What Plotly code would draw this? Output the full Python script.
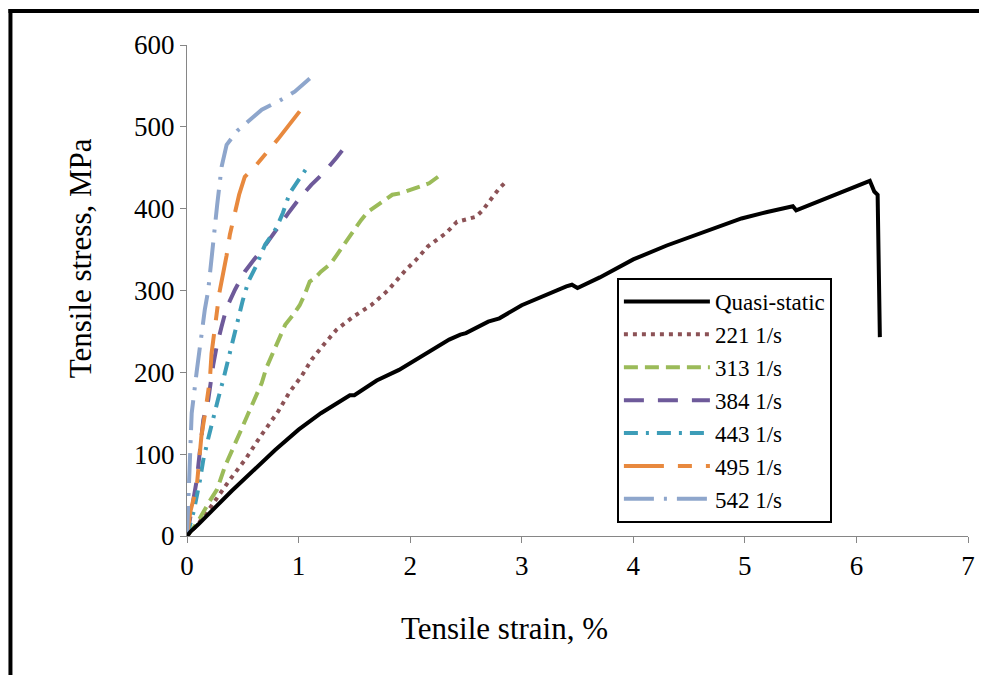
import plotly.graph_objects as go

# ---- data ----
qs_strain = [0, 0.03, 0.1, 0.2, 0.4, 0.79, 1.0, 1.2, 1.4, 1.46, 1.5, 1.7, 1.9, 2.1, 2.35, 2.45, 2.5,
             2.7, 2.8, 3.0, 3.2, 3.4, 3.45, 3.5, 3.7, 4.0, 4.3, 4.58, 4.97, 5.2, 5.43, 5.46, 5.78,
             6.0, 6.12, 6.16, 6.19, 6.21]
qs_stress = [0, 5, 14, 28, 55, 105, 130, 150, 168, 172, 172, 190, 203, 220, 240, 246, 248,
             262, 266, 282, 294, 305, 307, 303, 316, 338, 355, 369, 388, 396, 403, 398, 416,
             428, 434, 421, 417, 243]

s221_strain = [0, 0.1, 0.2, 0.38, 0.53, 0.65, 0.816, 0.92, 1.025, 1.12, 1.22, 1.34, 1.49, 1.65,
               1.80, 1.96, 2.05, 2.16, 2.32, 2.42, 2.59, 2.65, 2.71, 2.80, 2.86]
s221_stress = [0, 15, 33, 68, 95, 120, 152, 176, 195, 216, 233, 252, 268, 282,
               300, 325, 337, 354, 370, 384, 390, 398, 409, 425, 433]

s313_strain = [0, 0.1, 0.2, 0.27, 0.34, 0.43, 0.47, 0.55, 0.61, 0.67, 0.71, 0.77, 0.82, 0.88,
               0.95, 1.01, 1.055, 1.10, 1.144, 1.20, 1.29, 1.34, 1.40, 1.44, 1.50, 1.56, 1.62,
               1.68, 1.755, 1.84, 1.92, 2.01, 2.10, 2.17, 2.25]
s313_stress = [0, 18, 42, 57, 85, 111, 125, 150, 170, 187, 205, 223, 240, 258,
               270, 282, 295, 311, 315, 323, 333, 343, 354, 364, 376, 386, 396,
               402, 409, 417, 419, 423, 427, 431, 439]

s384_strain = [0, 0.03, 0.056, 0.087, 0.146, 0.19, 0.235, 0.265, 0.31, 0.355, 0.43, 0.518,
               0.608, 0.7, 0.905, 1.01, 1.114, 1.233, 1.338, 1.397]
s384_stress = [0, 25, 44, 68, 142, 166, 209, 231, 256, 279, 301, 323,
               339, 355, 394, 413, 429, 445, 462, 472]

s443_strain = [0, 0.06, 0.116, 0.146, 0.19, 0.25, 0.28, 0.325, 0.37, 0.41, 0.46, 0.50, 0.55,
               0.62, 0.70, 0.80, 0.86, 0.92, 1.01, 1.10]
s443_stress = [0, 30, 68, 93, 119, 154, 168, 191, 217, 240, 264, 288, 311,
               330, 356, 376, 395, 419, 437, 455]

s495_strain = [0, 0.03, 0.087, 0.13, 0.16, 0.205, 0.22, 0.265, 0.29, 0.355, 0.384, 0.467,
               0.518, 0.6, 0.727, 0.816, 1.01]
s495_stress = [0, 30, 60, 123, 148, 191, 223, 270, 297, 343, 368, 417,
               439, 450, 470, 485, 519]

s542_strain = [0, 0.027, 0.042, 0.087, 0.13, 0.16, 0.19, 0.226, 0.25, 0.27, 0.31, 0.355,
               0.45, 0.67, 0.83, 0.965, 1.10]
s542_stress = [0, 101, 150, 201, 252, 277, 300, 352, 378, 404, 451, 478,
               495, 521, 532, 543, 559]

series_names = ["Quasi-static", "221 1/s", "313 1/s", "384 1/s", "443 1/s", "495 1/s", "542 1/s"]
x_ticks = [0, 1, 2, 3, 4, 5, 6, 7]
y_ticks = [0, 100, 200, 300, 400, 500, 600]

# ---- styles ----
styles = [
    dict(color="#000000", width=4, dash="solid"),
    dict(color="#8C5256", width=4, dash="4px,5px"),
    dict(color="#9BBB59", width=4, dash="14px,7px"),
    dict(color="#6E5A9A", width=4, dash="20px,14px"),
    dict(color="#3D9DB8", width=4, dash="14px,8px,3px,8px"),
    dict(color="#E8893E", width=4, dash="40px,14px,14px,14px"),
    dict(color="#8EA6CC", width=4, dash="30px,10px,3px,10px"),
]

xs = [qs_strain, s221_strain, s313_strain, s384_strain, s443_strain, s495_strain, s542_strain]
ys = [qs_stress, s221_stress, s313_stress, s384_stress, s443_stress, s495_stress, s542_stress]

FONT = "Liberation Serif, Times New Roman, serif"

fig = go.Figure()
order = [1, 2, 3, 4, 5, 6, 0]
for i in order:
    fig.add_trace(go.Scatter(
        x=xs[i], y=ys[i], mode="lines", name=series_names[i],
        line=styles[i], legendrank=i + 1,
    ))

# page has an 8px body margin; work in window pixel coordinates
OFF = 8
W, H = 987 - OFF, 675 - OFF
PL, PR, PT, PB = 187, 970, 45, 536          # plot area in window pixels
L, R, T, B = PL - OFF, W - (PR - OFF), PT - OFF, H - (PB - OFF)
pw, ph = W - L - R, H - T - B

def px2paper_x(px):
    return (px - OFF - L) / pw

def px2paper_y(py):
    return (H - B - (py - OFF)) / ph

fig.update_layout(
    width=W, height=H,
    margin=dict(l=L, r=R, t=T, b=B, pad=0),
    paper_bgcolor="white", plot_bgcolor="white",
    font=dict(family=FONT, color="#000000", size=25),
    showlegend=True,
    legend=dict(
        x=px2paper_x(618), y=px2paper_y(278), xanchor="left", yanchor="top",
        bgcolor="white", bordercolor="#000000", borderwidth=2,
        font=dict(family=FONT, size=23, color="#000000"),
        itemwidth=86, tracegroupgap=0,
    ),
    xaxis=dict(
        range=[0, 7], tickvals=x_ticks, ticktext=[str(v) for v in x_ticks],
        showgrid=False, zeroline=False, showline=True, linecolor="#868686", linewidth=1,
        ticks="outside", ticklen=6, tickcolor="#868686", tickwidth=1,
        tickfont=dict(family=FONT, size=27, color="#000000"),
    ),
    yaxis=dict(
        range=[0, 600], tickvals=y_ticks, ticktext=[str(v) for v in y_ticks],
        showgrid=False, zeroline=False, showline=True, linecolor="#868686", linewidth=1,
        ticks="outside", ticklen=6, tickcolor="#868686", tickwidth=1,
        tickfont=dict(family=FONT, size=27, color="#000000"),
    ),
    annotations=[
        dict(text="Tensile strain, %", xref="paper", yref="paper",
             x=px2paper_x(505), y=px2paper_y(628), xanchor="center", yanchor="middle",
             showarrow=False, font=dict(family=FONT, size=31, color="#000000")),
        dict(text="Tensile stress, MPa", xref="paper", yref="paper",
             x=px2paper_x(80), y=px2paper_y(258), xanchor="center", yanchor="middle",
             textangle=-90, showarrow=False, font=dict(family=FONT, size=31, color="#000000")),
    ],
    shapes=[
        dict(type="line", xref="paper", yref="paper",
             x0=px2paper_x(10), x1=px2paper_x(10), y0=px2paper_y(700), y1=px2paper_y(9),
             line=dict(color="#000000", width=4)),
        dict(type="line", xref="paper", yref="paper",
             x0=px2paper_x(8), x1=px2paper_x(1000), y0=px2paper_y(11), y1=px2paper_y(11),
             line=dict(color="#000000", width=4)),
    ],
)

fig.write_html("out.html")
